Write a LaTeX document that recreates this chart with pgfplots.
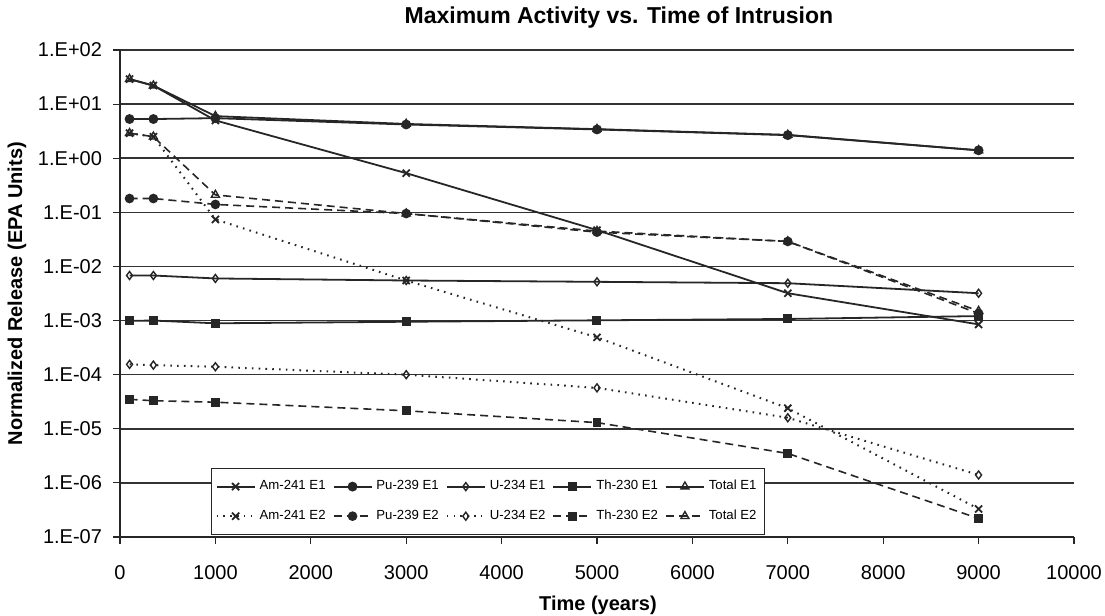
\documentclass[border=0pt]{standalone}
\usepackage{pgfplots}
\pgfplotsset{compat=1.18}
\usepackage{fontspec}
\setmainfont{Liberation Sans}
\begin{document}
\begin{tikzpicture}
\useasboundingbox (-60pt,-39.5pt) rectangle (492.5pt,268.5pt);
\begin{axis}[
  at={(0pt,0pt)}, anchor=south west,
  scale only axis, width=477pt, height=243.5pt,
  xmin=0, xmax=10000, ymode=log, ymin=1e-7, ymax=1e2,
  scaled x ticks=false,
  axis lines*=left,
  axis line style={-, line width=0.8pt, black!85},
  xtick={0,1000,2000,3000,4000,5000,6000,7000,8000,9000,10000},
  xticklabels={0,1000,2000,3000,4000,5000,6000,7000,8000,9000,10000},
  ytick={1e-7,1e-6,1e-5,1e-4,1e-3,1e-2,1e-1,1,10,100},
  yticklabels={1.E-07,1.E-06,1.E-05,1.E-04,1.E-03,1.E-02,1.E-01,1.E+00,1.E+01,1.E+02},
  xminorticks=false, yminorticks=false,
  ymajorgrids=true,
  major grid style={black!80, line width=0.8pt},
  tick style={black!85, line width=0.6pt},
  tick align=outside, major tick length=3.5pt,
  yticklabel style={font=\fontsize{10}{12}\selectfont, xshift=-2pt},
  xticklabel style={font=\fontsize{10}{12}\selectfont, yshift=-7pt},
  title={Maximum Activity vs. Time of Intrusion},
  title style={at={(axis description cs:0.523,1.0288)}, anchor=base, font=\bfseries\fontsize{11.5}{14}\selectfont},
  xlabel={Time (years)},
  x label style={at={(axis description cs:0.501,-0.14)}, anchor=center, font=\bfseries\fontsize{10}{12}\selectfont},
  ylabel={Normalized Release (EPA Units)},
  y label style={at={(axis description cs:-0.108,0.5)}, anchor=center, font=\bfseries\fontsize{10}{12}\selectfont},
  legend columns=5,
  legend cell align=left,
  legend image code/.code={\draw[mark repeat=2,mark phase=2,#1] plot coordinates {(0pt,0pt) (9.5pt,0pt) (19pt,0pt)};},
  legend style={at={(axis description cs:0.0954,0.004)}, anchor=south west,
    font=\fontsize{6.6}{7.5}\selectfont, draw=black!85, fill=white, line width=0.6pt,
    inner xsep=2pt, inner ysep=4pt, row sep=4.5pt,
    /tikz/every even column/.append style={column sep=1.5pt}},
  e1/.style={black!85, solid, line width=0.9pt},
  dot2/.style={black!85, line width=1pt, dash pattern=on 0.8pt off 2.6pt},
  dash2/.style={black!85, line width=0.8pt, dash pattern=on 4pt off 2.5pt},
]
% E1 series
\addplot[e1, mark=x, mark size=2.5pt, mark options={solid, line width=0.9pt}] coordinates {
 (100,29) (350,22) (1000,5.0) (3000,0.53) (5000,0.047) (7000,0.0032) (9000,0.00085)};
\addlegendentry{Am-241 E1}
\addplot[e1, mark=*, mark size=2pt, mark options={solid}] coordinates {
 (100,5.3) (350,5.3) (1000,5.5) (3000,4.2) (5000,3.4) (7000,2.67) (9000,1.4)};
\addlegendentry{Pu-239 E1}
\addplot[e1, mark=diamond, mark size=2pt, mark options={solid, fill=white, line width=0.7pt}] coordinates {
 (100,0.0068) (350,0.0068) (1000,0.0060) (3000,0.0055) (5000,0.0052) (7000,0.0049) (9000,0.0032)};
\addlegendentry{U-234 E1}
\addplot[e1, mark=square*, mark size=1.8pt, mark options={solid}] coordinates {
 (100,0.00099) (350,0.0010) (1000,0.00089) (3000,0.00095) (5000,0.00101) (7000,0.00107) (9000,0.00121)};
\addlegendentry{Th-230 E1}
\addplot[e1, mark=triangle, mark size=2.3pt, mark options={solid, fill=white, line width=0.7pt}] coordinates {
 (100,29) (350,22) (1000,6.0) (3000,4.3) (5000,3.45) (7000,2.7) (9000,1.4)};
\addlegendentry{Total E1}
% E2 series
\addplot[dot2, mark=x, mark size=2.5pt, mark options={solid, line width=0.9pt}] coordinates {
 (100,2.9) (350,2.5) (1000,0.074) (3000,0.0055) (5000,0.00049) (7000,2.4e-5) (9000,3.3e-7)};
\addlegendentry{Am-241 E2}
\addplot[dash2, mark=*, mark size=2pt, mark options={solid}] coordinates {
 (100,0.18) (350,0.18) (1000,0.14) (3000,0.095) (5000,0.043) (7000,0.029) (9000,0.00135)};
\addlegendentry{Pu-239 E2}
\addplot[dot2, mark=diamond, mark size=2pt, mark options={solid, fill=white, line width=0.7pt}] coordinates {
 (100,1.55e-4) (350,1.5e-4) (1000,1.4e-4) (3000,1.0e-4) (5000,5.7e-5) (7000,1.6e-5) (9000,1.4e-6)};
\addlegendentry{U-234 E2}
\addplot[dash2, mark=square*, mark size=1.8pt, mark options={solid}] coordinates {
 (100,3.5e-5) (350,3.3e-5) (1000,3.1e-5) (3000,2.15e-5) (5000,1.3e-5) (7000,3.5e-6) (9000,2.2e-7)};
\addlegendentry{Th-230 E2}
\addplot[dash2, mark=triangle, mark size=2.3pt, mark options={solid, fill=white, line width=0.7pt}] coordinates {
 (100,2.9) (350,2.5) (1000,0.21) (3000,0.095) (5000,0.045) (7000,0.029) (9000,0.0015)};
\addlegendentry{Total E2}
\end{axis}
\end{tikzpicture}
\end{document}
